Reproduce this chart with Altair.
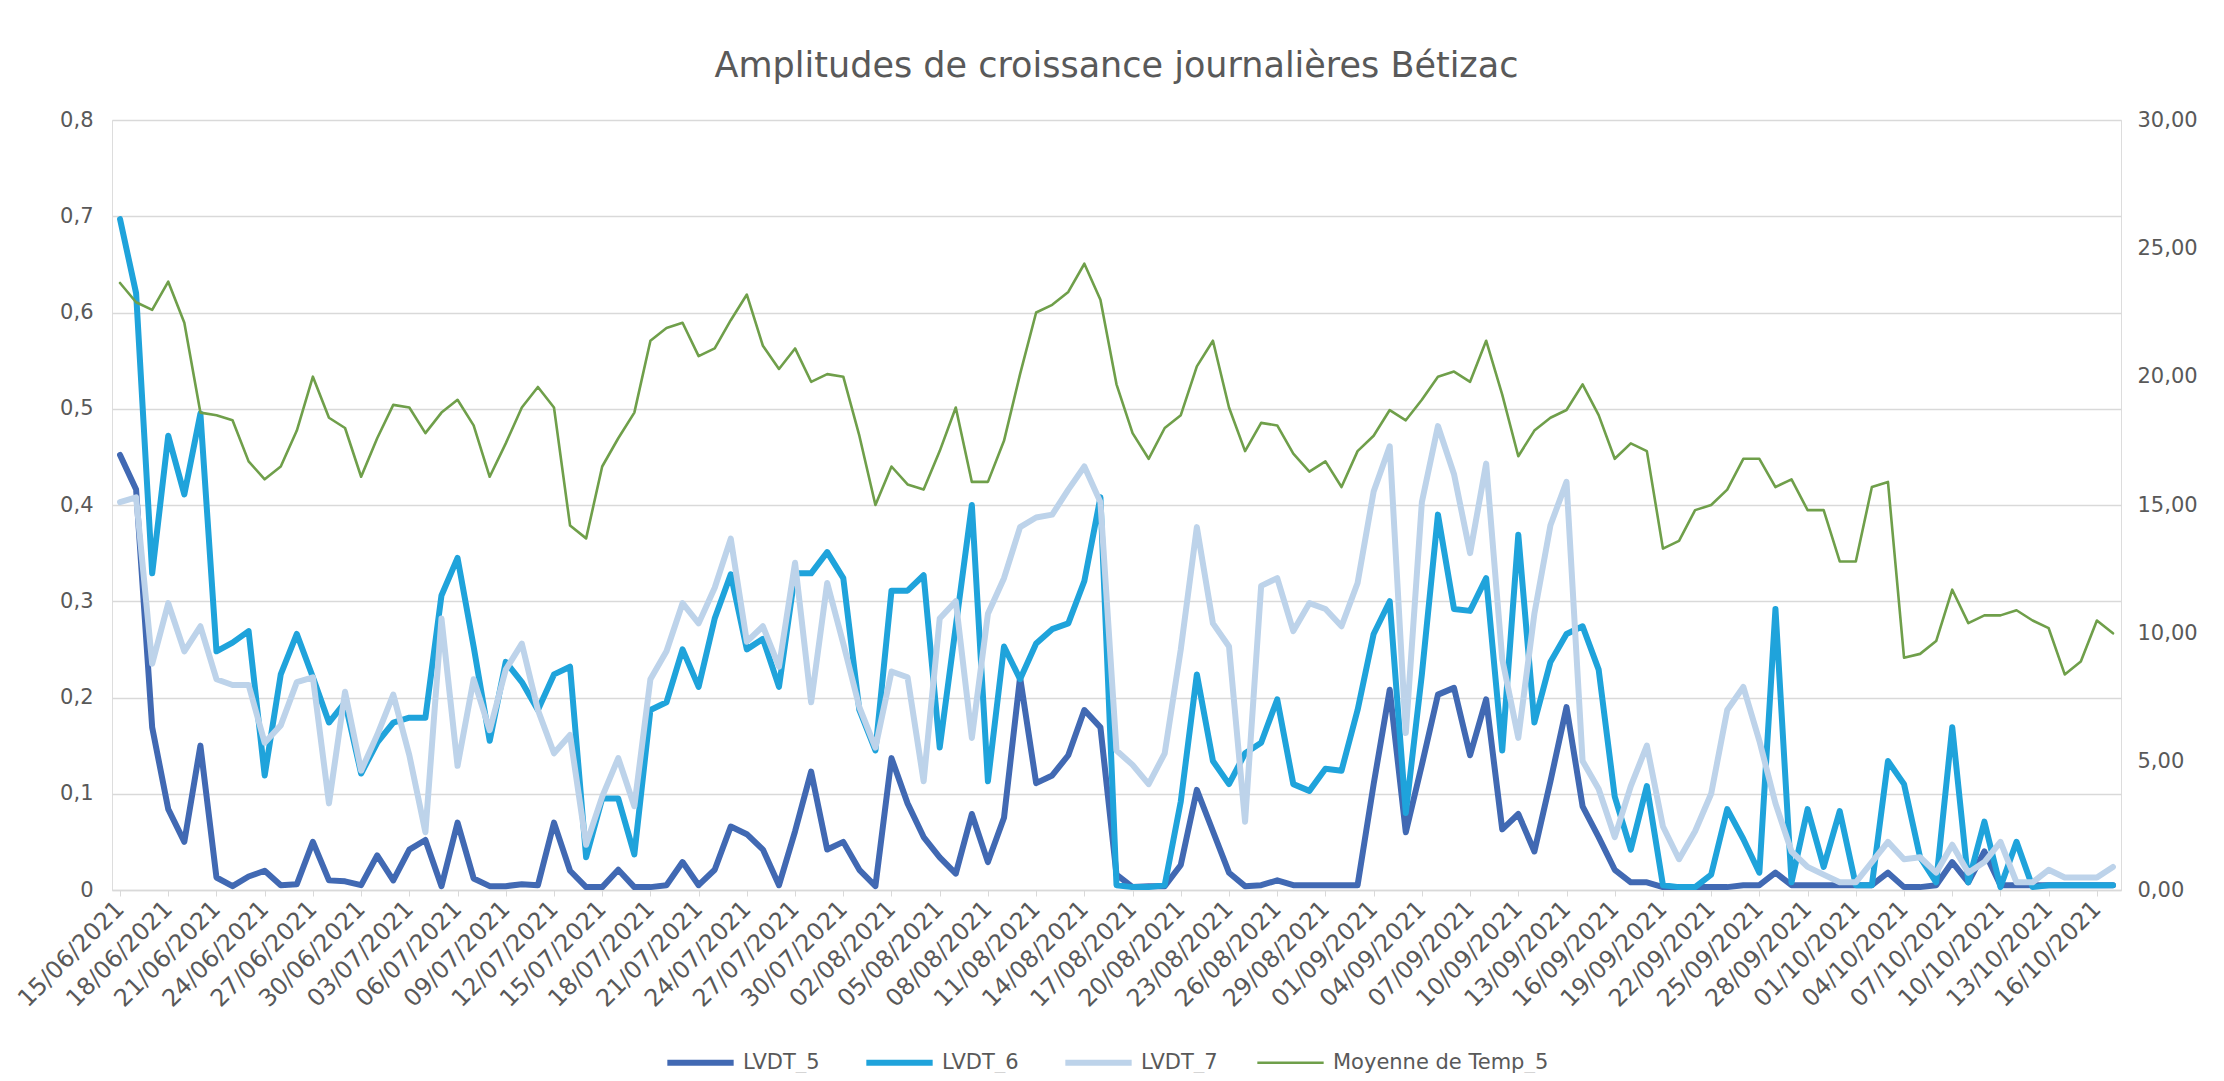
import altair as alt
import pandas as pd

dates = pd.date_range("2021-06-15", periods=125, freq="D").strftime("%d/%m/%Y").tolist()
tick_labels = dates[::3]

series_names = ["LVDT_5", "LVDT_6", "LVDT_7", "Moyenne de Temp_5"]
series_colors = ["#4169B3", "#1FA3DB", "#BDD3EA", "#6F9F4A"]
series_widths = [6, 6, 6, 2.6]

lvdt5 = [0.452, 0.416, 0.169, 0.084, 0.05, 0.15, 0.013, 0.004, 0.014, 0.02,
         0.005, 0.006, 0.05, 0.01, 0.009, 0.005, 0.036, 0.01, 0.042, 0.052,
         0.004, 0.07, 0.012, 0.004, 0.004, 0.006, 0.005, 0.07, 0.02, 0.003,
         0.003, 0.021, 0.003, 0.003, 0.005, 0.029, 0.005, 0.021, 0.066, 0.058,
         0.042, 0.005, 0.061, 0.123, 0.042, 0.05, 0.021, 0.004, 0.137, 0.09,
         0.055, 0.034, 0.017, 0.079, 0.029, 0.075, 0.221, 0.111, 0.119, 0.14,
         0.187, 0.169, 0.016, 0.003, 0.004, 0.004, 0.026, 0.104, 0.061, 0.018,
         0.004, 0.005, 0.01, 0.005, 0.005, 0.005, 0.005, 0.005, 0.11, 0.208,
         0.06, 0.13, 0.203, 0.21, 0.14, 0.198, 0.063, 0.079, 0.04, 0.113,
         0.19, 0.087, 0.055, 0.021, 0.008, 0.008, 0.003, 0.003, 0.003, 0.003,
         0.003, 0.005, 0.005, 0.018, 0.005, 0.005, 0.005, 0.005, 0.005, 0.005,
         0.018, 0.003, 0.003, 0.005, 0.029, 0.008, 0.04, 0.005, 0.005, 0.005,
         0.005, 0.005, 0.005, 0.005, 0.005]

lvdt6 = [0.697, 0.62, 0.329, 0.472, 0.411, 0.495, 0.248, 0.257, 0.269, 0.119,
         0.224, 0.266, 0.221, 0.174, 0.195, 0.121, 0.153, 0.174, 0.179, 0.179,
         0.306, 0.345, 0.253, 0.155, 0.237, 0.216, 0.187, 0.224, 0.232, 0.034,
         0.095, 0.095, 0.037, 0.187, 0.195, 0.25, 0.211, 0.282, 0.328, 0.25,
         0.261, 0.211, 0.329, 0.329, 0.351, 0.324, 0.187, 0.145, 0.311, 0.311,
         0.327, 0.148, 0.274, 0.40, 0.113, 0.253, 0.219, 0.256, 0.271, 0.277,
         0.321, 0.408, 0.005, 0.003, 0.003, 0.005, 0.092, 0.224, 0.134, 0.11,
         0.142, 0.153, 0.198, 0.11, 0.103, 0.126, 0.124, 0.187, 0.266, 0.30,
         0.08, 0.224, 0.39, 0.292, 0.29, 0.324, 0.145, 0.369, 0.174, 0.237,
         0.266, 0.274, 0.229, 0.097, 0.042, 0.108, 0.005, 0.003, 0.003, 0.016,
         0.084, 0.053, 0.018, 0.292, 0.008, 0.084, 0.024, 0.082, 0.005, 0.005,
         0.134, 0.11, 0.034, 0.008, 0.169, 0.008, 0.071, 0.003, 0.05, 0.003,
         0.005, 0.005, 0.005, 0.005, 0.005]

lvdt7 = [0.403, 0.408, 0.235, 0.298, 0.248, 0.274, 0.219, 0.213, 0.213, 0.153,
         0.171, 0.216, 0.221, 0.09, 0.206, 0.124, 0.161, 0.203, 0.14, 0.06,
         0.282, 0.129, 0.219, 0.166, 0.229, 0.256, 0.187, 0.142, 0.161, 0.047,
         0.097, 0.137, 0.087, 0.219, 0.248, 0.298, 0.277, 0.314, 0.365, 0.258,
         0.274, 0.232, 0.34, 0.195, 0.319, 0.256, 0.19, 0.148, 0.227, 0.221,
         0.113, 0.282, 0.30, 0.158, 0.287, 0.324, 0.377, 0.387, 0.39, 0.416,
         0.44, 0.403, 0.145, 0.13, 0.11, 0.142, 0.25, 0.377, 0.277, 0.253,
         0.071, 0.316, 0.324, 0.269, 0.298, 0.292, 0.274, 0.319, 0.414, 0.461,
         0.163, 0.403, 0.482, 0.432, 0.35, 0.443, 0.24, 0.158, 0.287, 0.379,
         0.424, 0.134, 0.105, 0.055, 0.108, 0.15, 0.066, 0.032, 0.061, 0.1,
         0.187, 0.211, 0.155, 0.09, 0.04, 0.024, 0.016, 0.008, 0.008, 0.029,
         0.05, 0.032, 0.034, 0.018, 0.047, 0.018, 0.029, 0.05, 0.008, 0.008,
         0.021, 0.013, 0.013, 0.013, 0.024]

temp5 = [23.65, 22.9, 22.6, 23.7, 22.1, 18.6, 18.5, 18.3, 16.7, 16.0,
         16.5, 17.9, 20.0, 18.4, 18.0, 16.1, 17.6, 18.9, 18.8, 17.8,
         18.6, 19.1, 18.1, 16.1, 17.4, 18.8, 19.6, 18.8, 14.2, 13.7,
         16.5, 17.6, 18.6, 21.4, 21.9, 22.1, 20.8, 21.1, 22.2, 23.2,
         21.2, 20.3, 21.1, 19.8, 20.1, 20.0, 17.7, 15.0, 16.5, 15.8,
         15.6, 17.1, 18.8, 15.9, 15.9, 17.5, 20.1, 22.5, 22.8, 23.3,
         24.4, 23.0, 19.7, 17.8, 16.8, 18.0, 18.5, 20.4, 21.4, 18.8,
         17.1, 18.2, 18.1, 17.0, 16.3, 16.7, 15.7, 17.1, 17.7, 18.7,
         18.3, 19.1, 20.0, 20.2, 19.8, 21.4, 19.3, 16.9, 17.9, 18.4,
         18.7, 19.7, 18.5, 16.8, 17.4, 17.1, 13.3, 13.6, 14.8, 15.0,
         15.6, 16.8, 16.8, 15.7, 16.0, 14.8, 14.8, 12.8, 12.8, 15.7,
         15.9, 9.05, 9.2, 9.7, 11.7, 10.4, 10.7, 10.7, 10.9, 10.5,
         10.2, 8.4, 8.9, 10.5, 10.0]

rows = []
for name, vals in zip(series_names[:3], [lvdt5, lvdt6, lvdt7]):
    for d, v in zip(dates, vals):
        rows.append({"date": d, "series": name, "value": v})
lv = pd.DataFrame(rows)
tp = pd.DataFrame({"date": dates, "series": series_names[3], "value": temp5})

FONT = "DejaVu Sans"
GREY = "#595959"

color_scale = alt.Scale(domain=series_names, range=series_colors)
sw_scale = alt.Scale(type="ordinal", domain=series_names, range=series_widths)
leg = alt.Legend(
    title=None, orient="none", legendX=552, legendY=906, direction="horizontal",
    columns=4, symbolType="stroke", symbolSize=4400, labelFontSize=21,
    labelFont=FONT, labelColor=GREY, columnPadding=34, labelOffset=6,
    labelLimit=0,
)

x_enc = alt.X(
    "date:O", sort=dates, title=None,
    scale=alt.Scale(type="point", padding=0.5),
    axis=alt.Axis(values=tick_labels, labelAngle=315, labelAlign="right",
                  labelBaseline="middle", labelFontSize=24, labelFont=FONT,
                  labelColor=GREY, labelPadding=9, labelOverlap=False,
                  labelBound=False, labelFlush=False, domainColor="#D9D9D9",
                  domainWidth=1.5, tickColor="#D9D9D9", tickSize=6, grid=False),
)

lines = alt.Chart(lv).mark_line(strokeJoin="round", strokeCap="round").encode(
    x=x_enc,
    y=alt.Y("value:Q", title=None, scale=alt.Scale(domain=[0, 0.8]),
            axis=alt.Axis(values=[0, 0.1, 0.2, 0.3, 0.4, 0.5, 0.6, 0.7, 0.8],
                          labelExpr="datum.value == 0 ? '0' : replace(format(datum.value, '.1f'), '.', ',')",
                          labelFontSize=21, labelFont=FONT, labelColor=GREY,
                          labelPadding=19, domain=False, ticks=False,
                          grid=True, gridColor="#D9D9D9", gridWidth=1.3)),
    color=alt.Color("series:N", scale=color_scale, legend=leg),
    strokeWidth=alt.StrokeWidth("series:N", scale=sw_scale, legend=leg),
)

temp = alt.Chart(tp).mark_line(strokeJoin="round", strokeCap="round").encode(
    x=x_enc,
    y=alt.Y("value:Q", title=None, scale=alt.Scale(domain=[0, 30]),
            axis=alt.Axis(orient="right", values=[0, 5, 10, 15, 20, 25, 30],
                          labelExpr="replace(format(datum.value, '.2f'), '.', ',')",
                          labelFontSize=21, labelFont=FONT, labelColor=GREY,
                          labelPadding=16, domain=False, ticks=False, grid=False)),
    color=alt.Color("series:N", scale=color_scale, legend=leg),
    strokeWidth=alt.StrokeWidth("series:N", scale=sw_scale, legend=leg),
)

chart = alt.layer(lines, temp).resolve_scale(y="independent").properties(
    width=2009, height=770,
    padding={"left": 104, "top": 112, "right": 90, "bottom": 183},
    autosize=alt.AutoSizeParams(type="none"),
    title=alt.TitleParams(text="Amplitudes de croissance journalières Bétizac",
                          fontSize=35, font=FONT, color=GREY, fontWeight="normal",
                          anchor="middle", offset=25),
).configure_view(stroke=None).configure(background="white")

chart.save("out.html", embed_options={"renderer": "svg", "actions": False})
